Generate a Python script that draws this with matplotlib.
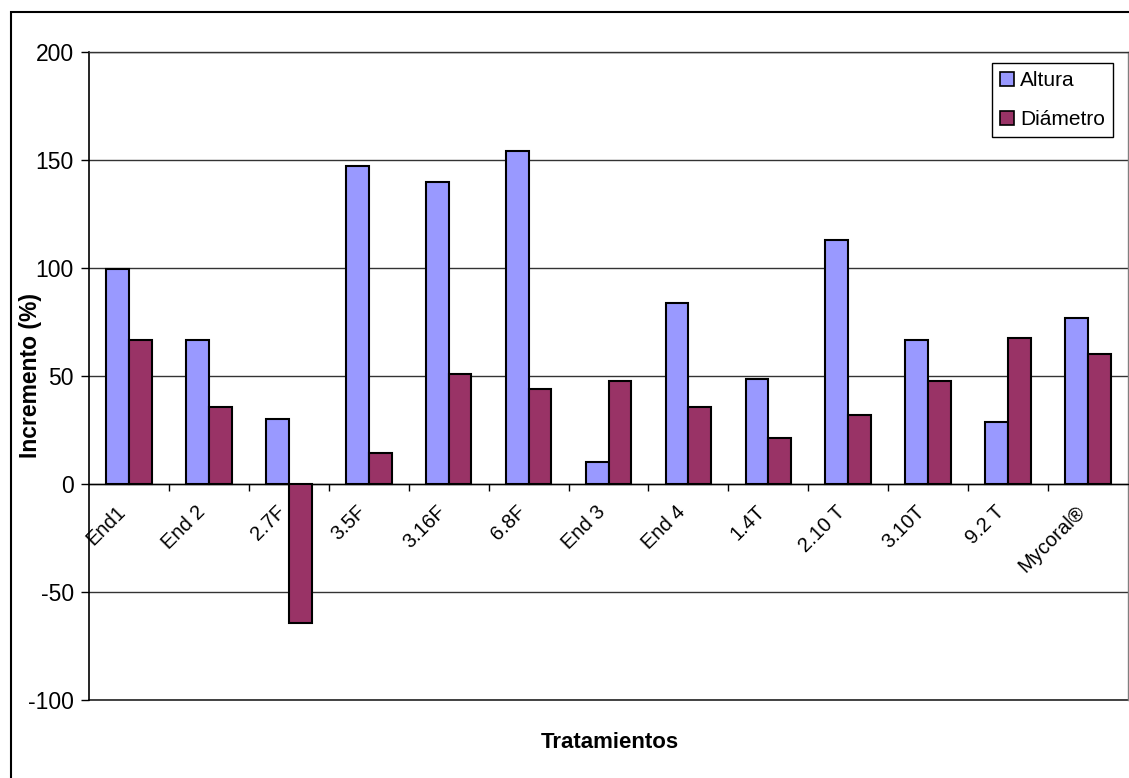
#We import matplotlib to draw the chart and numpy for the bar positions
import matplotlib.pyplot as plt
from matplotlib.patches import Rectangle, Patch
from matplotlib.transforms import ScaledTranslation
import numpy as np

#Treatments on the x axis
tratamientos = ["End1", "End 2", "2.7F", "3.5F", "3.16F", "6.8F", "End 3",
                "End 4", "1.4T", "2.10 T", "3.10T", "9.2 T", "Mycoral®"]
#Increase (%) in height and in diameter for every treatment
altura = [99.5, 66.5, 30, 147, 140, 154, 10, 84, 48.5, 113, 66.5, 28.5, 77]
diametro = [66.5, 35.5, -64.5, 14.5, 51, 44, 47.5, 35.5, 21.5, 32, 47.5, 67.5, 60]
yticks = [-100, -50, 0, 50, 100, 150, 200]

plt.rcParams['font.family'] = ['Liberation Sans', 'DejaVu Sans']
plt.rcParams['font.size'] = 16.5
plt.rcParams['axes.unicode_minus'] = False

W, H = 1129, 778
fig = plt.figure(figsize=(W / 100, H / 100), dpi=100)
ax = fig.add_axes([89 / W, 1 - 700 / H, (1128 - 89) / W, (700 - 52) / H])

#Excel style bars: gap width of 150% between groups
x = np.arange(len(tratamientos))
w = 1 / 3.5
ax.bar(x - w / 2, altura, w, color="#9999FF", edgecolor="black", linewidth=1.5, zorder=3)
ax.bar(x + w / 2, diametro, w, color="#993366", edgecolor="black", linewidth=1.5, zorder=3)

ax.set_xlim(-0.5, len(tratamientos) - 0.5)
ax.set_ylim(-100, 200)
ax.set_yticks(yticks)
ax.yaxis.grid(True, color="#333333", linewidth=1, zorder=0)
ax.axhline(-100, color="#222222", linewidth=1.2, clip_on=False, zorder=1)
ax.tick_params(axis="y", direction="out", length=6, width=1, pad=5)

#The category axis crosses at zero, with ticks between the groups
ax.spines["bottom"].set_position(("data", 0))
ax.spines["bottom"].set_linewidth(1)
ax.spines["left"].set_linewidth(1.2)
ax.spines["top"].set_color("#333333")
ax.spines["top"].set_linewidth(1)
ax.spines["right"].set_color("#808080")
ax.spines["right"].set_linewidth(1)
ax.set_xticks(x)
ax.set_xticks(np.arange(0.5, len(tratamientos) - 0.5), minor=True)
ax.tick_params(axis="x", which="major", length=0, pad=13)
ax.tick_params(axis="x", which="minor", direction="out", length=5, width=1)
ax.set_xticklabels(tratamientos, rotation=45, ha="right", va="top",
                   rotation_mode="anchor", fontsize=14.5)
#Move the rotated labels a bit to the left so they end under the group centre
shift = ScaledTranslation(-13 / 100, 0, fig.dpi_scale_trans)
for lbl in ax.get_xticklabels():
    lbl.set_transform(lbl.get_transform() + shift)

#Axis titles
fig.text(31 / W, 1 - 376 / H, "Incremento (%)", fontweight="bold",
         rotation=90, ha="center", va="center")
fig.text(610 / W, 1 - 742 / H, "Tratamientos", fontweight="bold",
         ha="center", va="center", fontsize=16)

#Legend box in the upper right corner
handles = [Patch(facecolor="#9999FF", edgecolor="black", linewidth=1.2),
           Patch(facecolor="#993366", edgecolor="black", linewidth=1.2)]
leg = fig.legend(handles, ["Altura", "Diámetro"], loc="upper left",
                 bbox_to_anchor=(992 / W, 1 - 63 / H), borderaxespad=0,
                 fancybox=False, edgecolor="black", framealpha=1,
                 fontsize=15, handlelength=0.65, handleheight=0.65,
                 handletextpad=0.3, labelspacing=0.95, borderpad=0.4)
leg.get_frame().set_linewidth(1)

#Outer chart border (left and top edges)
fig.patches.append(Rectangle((11 / W, -0.1), 1.2, 1.1 - 12 / H, transform=fig.transFigure,
                             fill=False, edgecolor="black", linewidth=1.5))

fig.savefig("out.png", dpi=100)
